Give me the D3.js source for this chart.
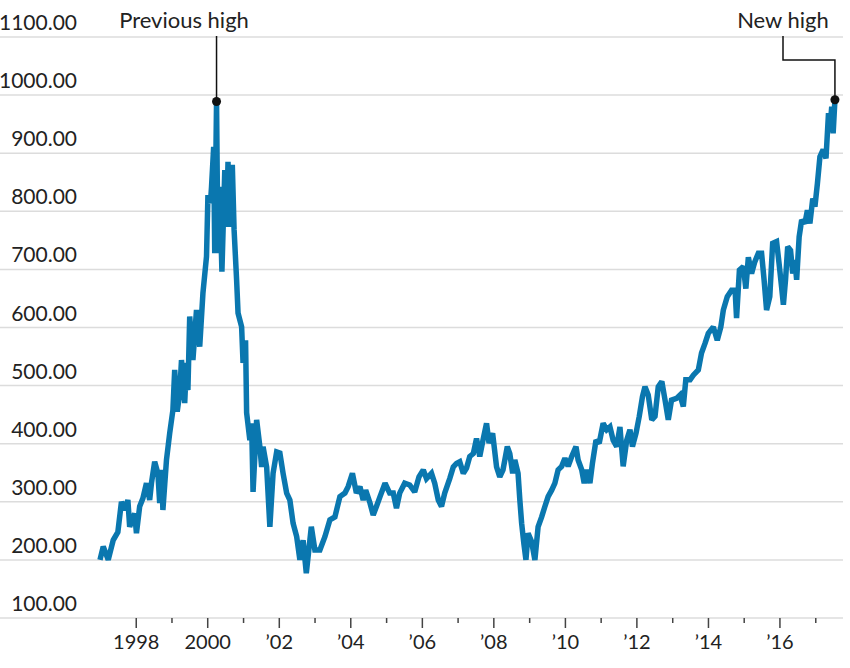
<!DOCTYPE html>
<html>
<head>
<meta charset="utf-8">
<script src="https://cdn.jsdelivr.net/npm/d3@7"></script>
<style>
  body { margin: 0; background: #fff; }
  svg { display: block; font-family: Lato, "Noto Sans", sans-serif; }
</style>
</head>
<body>
<div id="chart"></div>
<script>
// decimal years and index values
var years = [
  1997.00, 1997.09, 1997.23, 1997.37, 1997.50, 1997.60, 1997.69, 1997.78, 1997.83, 1997.97,
  1998.02, 1998.11, 1998.20, 1998.30, 1998.39, 1998.44, 1998.53, 1998.62, 1998.67, 1998.72,
  1998.76, 1998.86, 1998.95, 1999.04, 1999.09, 1999.16, 1999.23, 1999.28, 1999.37, 1999.42,
  1999.46, 1999.51, 1999.60, 1999.70, 1999.79, 1999.88, 1999.98, 2000.02, 2000.09, 2000.12,
  2000.18, 2000.21, 2000.26, 2000.30, 2000.35, 2000.41, 2000.49, 2000.54, 2000.58, 2000.63,
  2000.70, 2000.75, 2000.82, 2000.86, 2000.96, 2001.00, 2001.07, 2001.10, 2001.19, 2001.24,
  2001.28, 2001.38, 2001.47, 2001.52, 2001.56, 2001.66, 2001.75, 2001.84, 2001.94, 2002.03,
  2002.12, 2002.22, 2002.31, 2002.40, 2002.50, 2002.59, 2002.68, 2002.77, 2002.91, 2003.01,
  2003.15, 2003.29, 2003.43, 2003.57, 2003.71, 2003.85, 2003.94, 2004.06, 2004.17, 2004.27,
  2004.36, 2004.43, 2004.55, 2004.64, 2004.73, 2004.83, 2004.97, 2005.10, 2005.20, 2005.29,
  2005.38, 2005.52, 2005.66, 2005.80, 2005.92, 2006.04, 2006.13, 2006.27, 2006.36, 2006.46,
  2006.55, 2006.64, 2006.78, 2006.88, 2006.97, 2007.06, 2007.16, 2007.25, 2007.34, 2007.44,
  2007.53, 2007.62, 2007.71, 2007.81, 2007.88, 2007.98, 2008.09, 2008.18, 2008.27, 2008.39,
  2008.46, 2008.54, 2008.60, 2008.69, 2008.74, 2008.79, 2008.85, 2008.91, 2008.97, 2009.07,
  2009.16, 2009.25, 2009.35, 2009.44, 2009.53, 2009.63, 2009.72, 2009.81, 2009.91, 2010.00,
  2010.09, 2010.19, 2010.31, 2010.37, 2010.47, 2010.54, 2010.62, 2010.70, 2010.77, 2010.87,
  2010.96, 2011.07, 2011.17, 2011.26, 2011.35, 2011.45, 2011.54, 2011.63, 2011.73, 2011.82,
  2011.89, 2011.99, 2012.08, 2012.17, 2012.24, 2012.33, 2012.43, 2012.52, 2012.61, 2012.71,
  2012.80, 2012.89, 2012.98, 2013.12, 2013.22, 2013.31, 2013.38, 2013.50, 2013.59, 2013.73,
  2013.82, 2013.92, 2014.01, 2014.15, 2014.26, 2014.36, 2014.43, 2014.54, 2014.66, 2014.76,
  2014.80, 2014.88, 2014.99, 2015.06, 2015.13, 2015.22, 2015.31, 2015.41, 2015.50, 2015.57,
  2015.64, 2015.73, 2015.81, 2015.92, 2015.99, 2016.06, 2016.11, 2016.17, 2016.23, 2016.31,
  2016.37, 2016.43, 2016.48, 2016.55, 2016.62, 2016.71, 2016.78, 2016.85, 2016.93, 2016.99,
  2017.06, 2017.13, 2017.22, 2017.30, 2017.37, 2017.41, 2017.46, 2017.50, 2017.55
];
var values = [
  200, 223, 200, 234, 248, 300, 286, 303, 257, 280,
  246, 292, 306, 332, 303, 332, 369, 349, 298, 355,
  286, 372, 418, 458, 527, 455, 487, 544, 470, 539,
  492, 619, 544, 630, 567, 659, 722, 828, 814, 842,
  911, 728, 989, 728, 842, 696, 871, 773, 885, 773,
  880, 768, 682, 625, 601, 539, 578, 453, 406, 435,
  317, 441, 395, 360, 395, 360, 257, 349, 386, 384,
  349, 315, 303, 263, 240, 200, 234, 177, 257, 217,
  217, 240, 269, 274, 309, 315, 326, 349, 315, 326,
  303, 320, 298, 277, 292, 309, 332, 315, 315, 289,
  315, 332, 329, 317, 343, 355, 340, 349, 332, 303,
  292, 315, 340, 360, 366, 369, 349, 358, 378, 383,
  409, 378, 406, 435, 401, 418, 360, 343, 355, 395,
  383, 349, 372, 349, 303, 263, 229, 200, 246, 231,
  200, 257, 274, 292, 309, 320, 332, 355, 361, 375,
  361, 378, 395, 372, 355, 332, 355, 332, 366, 406,
  401, 435, 424, 429, 406, 395, 429, 361, 406, 424,
  395, 418, 447, 481, 498, 484, 441, 447, 498, 507,
  475, 441, 475, 478, 484, 464, 510, 510, 518, 527,
  556, 573, 590, 601, 578, 601, 630, 653, 664, 664,
  616, 699, 705, 667, 721, 693, 713, 728, 728, 682,
  630, 653, 745, 748, 710, 670, 639, 682, 739, 733,
  693, 716, 682, 756, 785, 779, 802, 779, 822, 808,
  848, 894, 906, 891, 969, 940, 980, 934, 992
];
var yTicks = [100, 200, 300, 400, 500, 600, 700, 800, 900, 1000, 1100];
var tickYears = d3.range(1998, 2018);

var width = 850, height = 668;

function toDate(y) {
  var yr = Math.floor(y);
  var start = new Date(yr, 0, 1), end = new Date(yr + 1, 0, 1);
  return new Date(+start + (y - yr) * (end - start));
}

var data = years.map(function(y, i) { return { date: toDate(y), value: values[i] }; });

var x = d3.scaleTime()
    .domain([new Date(1997, 0, 1), new Date(2017, 6, 1)])
    .range([100, 833]);
var y = d3.scaleLinear()
    .domain([100, 1100])
    .range([618, 37]);

var svg = d3.select("#chart").append("svg")
    .attr("width", width).attr("height", height);

// gridlines + y labels
var grid = svg.append("g");
grid.selectAll("line").data(yTicks).enter().append("line")
    .attr("x1", 0).attr("x2", 843)
    .attr("y1", function(d) { return y(d); })
    .attr("y2", function(d) { return y(d); })
    .attr("stroke", "#dcdcdc").attr("stroke-width", 1.5);
grid.selectAll("text").data(yTicks).enter().append("text")
    .attr("x", 77)
    .attr("y", function(d) { return y(d) - 7; })
    .attr("text-anchor", "end")
    .attr("font-size", "21px")
    .attr("fill", "#222")
    .text(function(d) { return d3.format(".2f")(d); });

// x axis
var xAxis = d3.axisBottom(x)
    .tickValues(tickYears.map(function(d) { return new Date(d, 0, 1); }))
    .tickSizeOuter(0)
    .tickSize(10)
    .tickFormat(function(d) {
      var yr = d.getFullYear();
      if (yr % 2) return "";
      if (yr <= 2000) return String(yr);
      return "\u2019" + String(yr).slice(2);
    });
var gx = svg.append("g")
    .attr("transform", "translate(0," + y(100) + ")")
    .call(xAxis);
gx.select(".domain").remove();
gx.selectAll(".tick line")
    .attr("stroke", "#444").attr("stroke-width", 1.5)
    .attr("y2", function(d) { return d.getFullYear() % 2 ? 5 : 10; });
gx.selectAll(".tick text")
    .attr("y", 17)
    .attr("font-family", "Lato, 'Noto Sans', sans-serif")
    .attr("font-size", "20px")
    .attr("fill", "#222");

// series line
var line = d3.line()
    .x(function(d) { return x(d.date); })
    .y(function(d) { return y(d.value); });
svg.append("path")
    .datum(data)
    .attr("d", line)
    .attr("fill", "none")
    .attr("stroke", "#0a77af")
    .attr("stroke-width", 5.5)
    .attr("stroke-linejoin", "miter")
    .attr("stroke-miterlimit", 2);

// annotations
var prevHigh = d3.greatest(data.filter(function(d) { return d.date < toDate(2010); }), function(d) { return d.value; });
var newHigh = data[data.length - 1];

var ann = svg.append("g");
ann.append("line")
    .attr("x1", x(prevHigh.date)).attr("x2", x(prevHigh.date))
    .attr("y1", 36).attr("y2", y(prevHigh.value))
    .attr("stroke", "#111").attr("stroke-width", 1.5);
ann.append("path")
    .attr("d", "M783,36V60H" + x(newHigh.date) + "V" + y(newHigh.value))
    .attr("fill", "none").attr("stroke", "#111").attr("stroke-width", 1.5);
ann.selectAll("circle").data([prevHigh, newHigh]).enter().append("circle")
    .attr("cx", function(d) { return x(d.date); })
    .attr("cy", function(d) { return y(d.value); })
    .attr("r", 4.5).attr("fill", "#111");
ann.append("text").attr("x", 184).attr("y", 28)
    .attr("text-anchor", "middle").attr("font-size", "22px").attr("fill", "#222")
    .text("Previous high");
ann.append("text").attr("x", 783).attr("y", 28)
    .attr("text-anchor", "middle").attr("font-size", "22px").attr("fill", "#222")
    .text("New high");
</script>
</body>
</html>
